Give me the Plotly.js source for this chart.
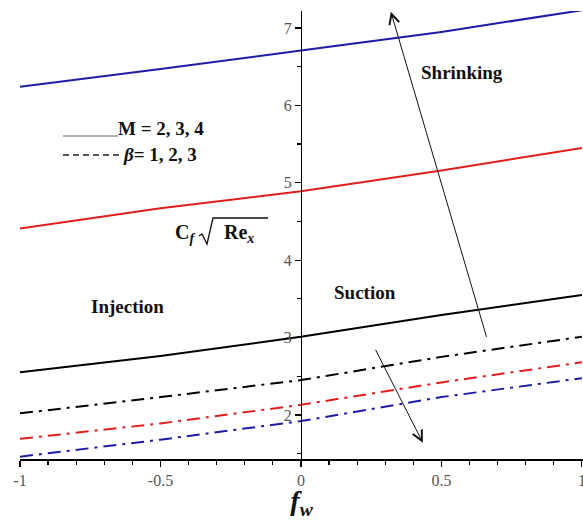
<!DOCTYPE html>
<html>
<head>
<meta charset="utf-8">
<script src="https://cdn.plot.ly/plotly-3.0.1.min.js"></script>
<style>
  html, body { margin: 0; padding: 0; background: #fff; }
  #chart { width: 583px; height: 520px; }
</style>
</head>
<body>
<div id="chart"></div>
<script>
// Suction / injection parameter f_w
const fw = [-1, -0.5, 0, 0.5, 1];

// Skin friction C_f sqrt(Re_x): solid lines vary M, dash-dot lines vary beta
const cfM2 = [2.55, 2.76, 3.01, 3.29, 3.55];
const cfM3 = [4.41, 4.67, 4.89, 5.16, 5.45];
const cfM4 = [6.24, 6.47, 6.71, 6.95, 7.23];
const cfB1 = [2.02, 2.23, 2.45, 2.75, 3.01];
const cfB2 = [1.69, 1.89, 2.13, 2.42, 2.68];
const cfB3 = [1.46, 1.68, 1.92, 2.23, 2.475];

const xTickVals = [-1, -0.5, 0, 0.5, 1];
const xTickText = ['-1', '-0.5', '0', '0.5', '1'];
const yTickVals = [2, 3, 4, 5, 6, 7];

const BLUE = '#1c1ca8', RED = '#e01e1e', BLACK = '#000000';
const DASHDOT = '13px,6px,3px,6px';
const SERIF = '"Liberation Serif", "Times New Roman", serif';

const W = 583, H = 520;
const M = { l: 20, r: 0, t: 11, b: 61 };
const xRange = [-1, 1.004];
const yRange = [1.43, 7.22];

// pixel position on the page -> paper fraction
const px = v => (v - M.l) / (W - M.l - M.r);
const py = v => (H - M.b - v) / (H - M.t - M.b);

function line(y, color, dash) {
  return {
    x: fw, y: y, type: 'scatter', mode: 'lines',
    line: { color: color, width: 2, dash: dash },
    hoverinfo: 'skip', showlegend: false
  };
}

const traces = [
  line(cfM4, BLUE, 'solid'),
  line(cfM3, RED, 'solid'),
  line(cfM2, BLACK, 'solid'),
  line(cfB1, BLACK, DASHDOT),
  line(cfB2, RED, DASHDOT),
  line(cfB3, BLUE, DASHDOT)
];

const boldSerif = (size) => ({ family: SERIF, size: size, color: '#111' });

function label(x, y, text, size, anchor) {
  return { xref: 'paper', yref: 'paper', x: px(x), y: py(y), text: text,
           xanchor: anchor || 'center', yanchor: 'middle',
           showarrow: false, font: boldSerif(size) };
}

const annotations = [
  label(462, 72, '<b>Shrinking</b>', 19),
  label(127, 306, '<b>Injection</b>', 19),
  label(365, 292, '<b>Suction</b>', 19),
  label(116, 129, '<b>M = 2, 3, 4</b>', 19, 'left'),
  label(121, 154, '<b><i>β</i>= 1, 2, 3</b>', 19, 'left'),
  // C_f  sqrt(Re_x)
  label(173, 234, '<b>C<sub><i>f</i></sub></b>', 20, 'left'),
  label(222, 234, '<b>Re<sub><i>x</i></sub></b>', 20, 'left'),
  // trend arrows
  { xref: 'x', yref: 'y', axref: 'x', ayref: 'y',
    x: 0.32, y: 7.21, ax: 0.662, ay: 2.99, text: '',
    showarrow: true, arrowhead: 5, arrowsize: 2, arrowwidth: 1, arrowcolor: '#111' },
  { xref: 'x', yref: 'y', axref: 'x', ayref: 'y',
    x: 0.434, y: 1.64, ax: 0.263, ay: 2.86, text: '',
    showarrow: true, arrowhead: 5, arrowsize: 2, arrowwidth: 1, arrowcolor: '#111' }
];

// radical sign drawn as a path in paper coordinates
const radical = [[199, 236], [202, 234], [207, 244], [213, 218], [268, 218]]
  .map((p, i) => (i ? 'L' : 'M') + px(p[0]).toFixed(5) + ',' + py(p[1]).toFixed(5)).join(' ');

const shapes = [
  // key lines
  { type: 'line', xref: 'paper', yref: 'paper', x0: px(63), x1: px(118), y0: py(136), y1: py(136),
    line: { color: '#999', width: 1.3 } },
  { type: 'line', xref: 'paper', yref: 'paper', x0: px(63), x1: px(119), y0: py(155), y1: py(155),
    line: { color: '#222', width: 1.3, dash: '6px,4px' } },
  { type: 'path', xref: 'paper', yref: 'paper', path: radical,
    line: { color: '#111', width: 1.3 } }
];

const layout = {
  width: W, height: H,
  margin: M,
  paper_bgcolor: '#fff', plot_bgcolor: '#fff',
  showlegend: false,
  xaxis: {
    range: xRange, showgrid: false, zeroline: false,
    showline: true, linecolor: '#000', linewidth: 1.5,
    ticks: 'outside', ticklen: 6, tickwidth: 1.2, tickcolor: '#000',
    tickvals: xTickVals, ticktext: xTickText, ticklabeloverflow: 'allow',
    tickfont: { family: SERIF, size: 16, color: '#555' },
    minor: { dtick: 0.1, ticks: 'outside', ticklen: 4, tickcolor: '#000', showgrid: false },
    title: { text: '<b><i>f</i></b><sub><b><i>w</i></b></sub>', standoff: 8,
             font: { family: SERIF, size: 28, color: '#111' } }
  },
  yaxis: {
    range: yRange, showgrid: false, zeroline: false,
    anchor: 'free', position: (0 - xRange[0]) / (xRange[1] - xRange[0]),
    showline: true, linecolor: '#000', linewidth: 1.5,
    ticks: 'outside', ticklen: 6, tickwidth: 1.2, tickcolor: '#000',
    tickvals: yTickVals,
    tickfont: { family: SERIF, size: 16, color: '#555' },
    minor: { dtick: 0.5, ticks: 'outside', ticklen: 4, tickcolor: '#000', showgrid: false }
  },
  annotations: annotations,
  shapes: shapes
};

Plotly.newPlot('chart', traces, layout, { staticPlot: true, displayModeBar: false });
</script>
</body>
</html>
